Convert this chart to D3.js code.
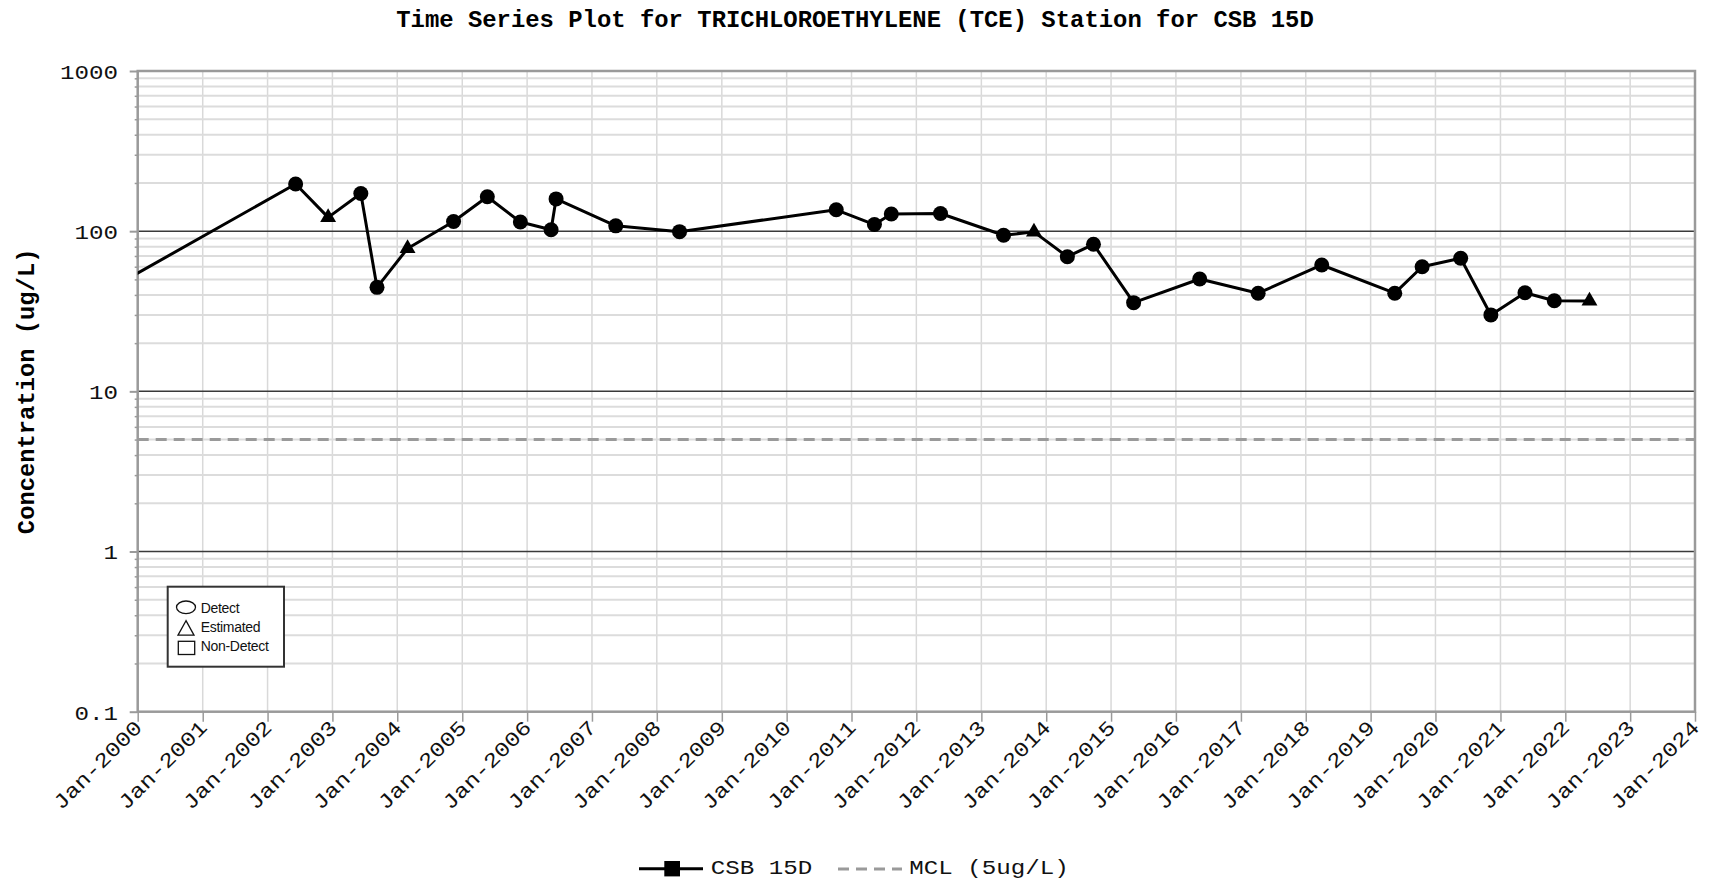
<!DOCTYPE html>
<html>
<head>
<meta charset="utf-8">
<script src="https://cdn.jsdelivr.net/npm/d3@7"></script>
<style>
  html, body { margin: 0; padding: 0; background: #fff; }
  svg { display: block; }
</style>
</head>
<body>
<svg id="chart" width="1710" height="884"></svg>
<script>
// Sampling record for station CSB 15D, TCE in ug/L.
// Qualifier: "D" = detect, "E" = estimated, "N" = non-detect.
const sampleDates = [
  "1999-01-15", "2002-06-08", "2002-12-08", "2003-06-10", "2003-09-09",
  "2004-02-28", "2004-11-13", "2005-05-22", "2005-11-24", "2006-05-16",
  "2006-06-13", "2007-05-15", "2008-05-08", "2010-10-07", "2011-05-10",
  "2011-08-13", "2012-05-16", "2013-05-06", "2013-10-24", "2014-04-30",
  "2014-09-24", "2015-05-08", "2016-05-14", "2017-04-08", "2018-04-01",
  "2019-05-17", "2019-10-18", "2020-05-22", "2020-11-08", "2021-05-19",
  "2021-10-31", "2022-05-17"
];
const concentrations = [
  33, 197, 122, 172, 44.6,
  78, 115, 164, 114, 102,
  159, 108, 99.3, 136, 110,
  128, 129, 94.3, 99, 69.3,
  82.8, 35.8, 50.3, 41, 61.5,
  41, 60, 67.7, 30, 41.3,
  36.8, 36.7
];
const qualifiers = [
  "D", "D", "E", "D", "D",
  "E", "D", "D", "D", "D",
  "D", "D", "D", "D", "D",
  "D", "D", "D", "E", "D",
  "D", "D", "D", "D", "D",
  "D", "D", "D", "D", "D",
  "D", "E"
];
const mclValue = 5;
const yTickValues = [0.1, 1, 10, 100, 1000];
const yTickLabels = ["0.1", "1", "10", "100", "1000"];
const xDomain = ["2000-01-01", "2024-01-01"];
const titleText = "Time Series Plot for TRICHLOROETHYLENE (TCE) Station for CSB 15D";
const yAxisTitle = "Concentration (ug/L)";
const seriesName = "CSB 15D";
const mclName = "MCL (5ug/L)";
const symbolLegend = ["Detect", "Estimated", "Non-Detect"];

// ---- layout ----
const W = 1710, H = 884;
const plot = { left: 137.7, right: 1695, top: 71, bottom: 711.7 };
const MONO = "'Liberation Mono', 'Cousine', 'Courier New', monospace";
const SANS = "'Liberation Sans', Arial, sans-serif";
const TXT_SX = 1.18;   // horizontal stretch of the regular mono text

const svg = d3.select("#chart");
const parse = d3.utcParse("%Y-%m-%d");

const data = sampleDates.map((d, i) => ({
  date: parse(d), value: concentrations[i], q: qualifiers[i]
}));

const x = d3.scaleUtc()
  .domain(xDomain.map(parse))
  .range([plot.left, plot.right]);
const y = d3.scaleLog()
  .domain([0.1, 1000])
  .range([plot.bottom, plot.top]);

// minor log positions: 2..9 in every decade
const minorValues = [];
[0.1, 1, 10, 100].forEach(base => {
  for (let k = 2; k <= 9; k++) minorValues.push(base * k);
});
const yearTicks = x.ticks(d3.utcYear.every(1));

svg.append("rect").attr("width", W).attr("height", H).attr("fill", "#fff");

// ---- grid ----
const grid = svg.append("g");
grid.selectAll("line.vgrid").data(yearTicks).join("line")
  .attr("class", "vgrid")
  .attr("x1", d => x(d)).attr("x2", d => x(d))
  .attr("y1", plot.top).attr("y2", plot.bottom)
  .attr("stroke", "#d9d9d9").attr("stroke-width", 1.5);

grid.selectAll("line.minor").data(minorValues).join("line")
  .attr("class", "minor")
  .attr("x1", plot.left).attr("x2", plot.right)
  .attr("y1", d => y(d)).attr("y2", d => y(d))
  .attr("stroke", "#dcdcdc").attr("stroke-width", 2);

grid.selectAll("line.major").data([1, 10, 100]).join("line")
  .attr("class", "major")
  .attr("x1", plot.left).attr("x2", plot.right)
  .attr("y1", d => y(d)).attr("y2", d => y(d))
  .attr("stroke", "#3a3a3a").attr("stroke-width", 1.5);

// MCL reference line
svg.append("line")
  .attr("x1", plot.left).attr("x2", plot.right)
  .attr("y1", y(mclValue)).attr("y2", y(mclValue))
  .attr("stroke", "#9a9a9a").attr("stroke-width", 3)
  .attr("stroke-dasharray", "11,7");

// ---- axes ----
const axisColor = "#9a9a9a";

const yMinorAxis = svg.append("g")
  .attr("transform", `translate(${plot.left},0)`)
  .call(d3.axisLeft(y).tickValues(minorValues).tickSize(3).tickFormat(""));
yMinorAxis.select(".domain").remove();
yMinorAxis.selectAll("line").attr("stroke", axisColor).attr("stroke-width", 1.5);

const yAxis = svg.append("g")
  .attr("transform", `translate(${plot.left},0)`)
  .call(d3.axisLeft(y).tickValues(yTickValues).tickSize(8)
    .tickFormat((d, i) => yTickLabels[i]));
yAxis.select(".domain").remove();
yAxis.selectAll("line").attr("stroke", axisColor).attr("stroke-width", 2);
yAxis.selectAll("text")
  .attr("x", null).attr("dy", "0.36em")
  .attr("transform", `translate(-19.7,0) scale(${TXT_SX},1)`)
  .attr("text-anchor", "end")
  .attr("fill", "#111")
  .style("font-family", MONO).style("font-size", "20.5px");

const xAxis = svg.append("g")
  .attr("transform", `translate(0,${plot.bottom})`)
  .call(d3.axisBottom(x).tickValues(yearTicks).tickSize(10)
    .tickFormat(d3.utcFormat("%b-%Y")));
xAxis.select(".domain").remove();
xAxis.selectAll("line").attr("stroke", axisColor).attr("stroke-width", 1.5);
xAxis.selectAll("text")
  .attr("y", null).attr("dy", null)
  .attr("text-anchor", "end")
  .attr("transform", `translate(5,17) rotate(-45) scale(${TXT_SX},1)`)
  .attr("fill", "#111")
  .style("font-family", MONO).style("font-size", "20.5px");

// plot frame
svg.append("rect")
  .attr("x", plot.left).attr("y", plot.top)
  .attr("width", plot.right - plot.left).attr("height", plot.bottom - plot.top)
  .attr("fill", "none").attr("stroke", axisColor).attr("stroke-width", 2.5);

// ---- series ----
svg.append("clipPath").attr("id", "plot-clip")
  .append("rect")
  .attr("x", plot.left).attr("y", plot.top)
  .attr("width", plot.right - plot.left).attr("height", plot.bottom - plot.top);

const series = svg.append("g").attr("clip-path", "url(#plot-clip)");
series.append("path")
  .datum(data)
  .attr("fill", "none").attr("stroke", "#000").attr("stroke-width", 3)
  .attr("stroke-linejoin", "round")
  .attr("d", d3.line().x(d => x(d.date)).y(d => y(d.value)));

const symbolFor = q => q === "E" ? d3.symbolTriangle : (q === "N" ? d3.symbolSquare : d3.symbolCircle);
const sizeFor = q => q === "E" ? 110 : (q === "N" ? 200 : 177);
series.selectAll("path.pt").data(data).join("path")
  .attr("class", "pt")
  .attr("transform", d => `translate(${x(d.date)},${y(d.value)})`)
  .attr("d", d => d3.symbol(symbolFor(d.q), sizeFor(d.q))())
  .attr("fill", "#000");

// ---- symbol key (inside plot) ----
const key = svg.append("g").attr("transform", "translate(167.7,586.7)");
key.append("rect").attr("width", 116.3).attr("height", 80)
  .attr("fill", "#fff").attr("stroke", "#333").attr("stroke-width", 2);
key.append("ellipse").attr("cx", 18.3).attr("cy", 20.6).attr("rx", 9.5).attr("ry", 6.3)
  .attr("fill", "none").attr("stroke", "#111").attr("stroke-width", 1.3);
key.append("path").attr("d", "M18.3,34 L10.3,48.4 L26.3,48.4 Z")
  .attr("fill", "none").attr("stroke", "#111").attr("stroke-width", 1.3);
key.append("rect").attr("x", 10.6).attr("y", 54.6).attr("width", 16.4).attr("height", 13.2)
  .attr("fill", "none").attr("stroke", "#111").attr("stroke-width", 1.3);
key.selectAll("text").data(symbolLegend).join("text")
  .attr("x", 33).attr("y", (d, i) => 26 + i * 19.4)
  .attr("fill", "#111")
  .style("font-family", SANS).style("font-size", "14px")
  .style("letter-spacing", "-0.3px")
  .text(d => d);

// ---- titles ----
svg.append("text")
  .attr("x", W / 2).attr("y", 27)
  .attr("text-anchor", "middle")
  .attr("fill", "#000")
  .style("font-family", MONO).style("font-weight", "bold").style("font-size", "23.9px")
  .text(titleText);

svg.append("text")
  .attr("transform", `translate(33.5,${(plot.top + plot.bottom) / 2}) rotate(-90)`)
  .attr("text-anchor", "middle")
  .attr("fill", "#000")
  .style("font-family", MONO).style("font-weight", "bold").style("font-size", "23.8px")
  .text(yAxisTitle);

// ---- series legend (bottom) ----
const legend = svg.append("g");
legend.append("line").attr("x1", 639).attr("x2", 703).attr("y1", 868.7).attr("y2", 868.7)
  .attr("stroke", "#000").attr("stroke-width", 3);
legend.append("rect").attr("x", 664.3).attr("y", 861).attr("width", 15.7).attr("height", 15.4)
  .attr("fill", "#000");
legend.append("text")
  .attr("transform", `translate(710.7,874) scale(${TXT_SX},1)`)
  .attr("fill", "#111")
  .style("font-family", MONO).style("font-size", "20.5px")
  .text(seriesName);
legend.append("line").attr("x1", 838).attr("x2", 902).attr("y1", 869).attr("y2", 869)
  .attr("stroke", "#9a9a9a").attr("stroke-width", 3).attr("stroke-dasharray", "11,7");
legend.append("text")
  .attr("transform", `translate(909.3,874) scale(${TXT_SX},1)`)
  .attr("fill", "#111")
  .style("font-family", MONO).style("font-size", "20.5px")
  .text(mclName);
</script>
</body>
</html>
